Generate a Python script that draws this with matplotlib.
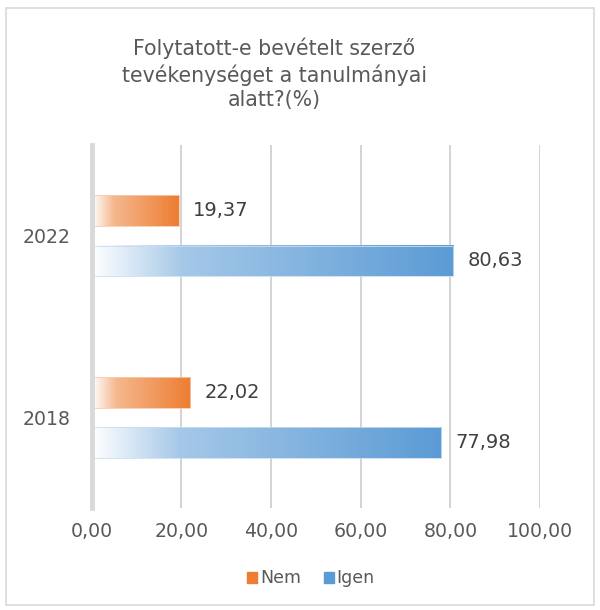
import numpy as np
import matplotlib.pyplot as plt
from matplotlib.colors import LinearSegmentedColormap, to_rgb
from matplotlib.patches import Rectangle

plt.rcParams['font.family'] = ['DejaVu Sans']

years = ['2018', '2022']
nem = [22.02, 19.37]
igen = [77.98, 80.63]
xticks = [0, 20, 40, 60, 80, 100]
title = "Folytatott-e bevételt szerző\ntevékenységet a tanulmányai\nalatt?(%)"

c_nem = '#ED7D31'
c_igen = '#5B9BD5'
txt = '#595959'


def grad_cmap(c):
    r = np.array(to_rgb(c))
    w = np.ones(3)
    return LinearSegmentedColormap.from_list(
        'g', [(0, w), (0.25, w * 0.45 + r * 0.55), (1, r)])


fig = plt.figure(figsize=(6, 6.1), dpi=100)
fig.patches.append(Rectangle((0.01, 0.008), 0.98, 0.979, transform=fig.transFigure,
                             fill=False, edgecolor='#D9D9D9', lw=1.2))
ax = fig.add_axes([0.153, 0.167, 0.747, 0.595])

y = np.arange(len(years))
h = 0.17
off = 0.138
b_nem = ax.barh(y + off, nem, height=h, color='none')
b_igen = ax.barh(y - off, igen, height=h, color='none')

grad = np.linspace(0, 1, 256).reshape(1, -1)
for bars, col, edge in [(b_nem, c_nem, '#F8CBAD'), (b_igen, c_igen, '#C9DDF0')]:
    cm = grad_cmap(col)
    for p in bars:
        x0, y0, w, hh = p.get_x(), p.get_y(), p.get_width(), p.get_height()
        ax.imshow(grad, cmap=cm, aspect='auto', extent=[x0, x0 + w, y0, y0 + hh],
                  zorder=3, interpolation='bilinear')
        ax.add_patch(Rectangle((x0, y0), w, hh, fill=False, edgecolor=edge, lw=0.6, zorder=4))

for bars, vals in [(b_nem, nem), (b_igen, igen)]:
    for p, v in zip(bars, vals):
        ax.text(v + 3.2, p.get_y() + p.get_height() / 2, f"{v:.2f}".replace('.', ','),
                va='center', ha='left', fontsize=14, color='#404040')

ax.set_xlim(0, 100)
ax.set_ylim(-0.5, 1.5)
ax.set_xticks(xticks)
ax.set_xticklabels([f"{t:.2f}".replace('.', ',') for t in xticks])
ax.set_yticks(y)
ax.set_yticklabels(years)
ax.tick_params(length=0, labelsize=13.6, colors=txt)
ax.tick_params(axis='x', pad=10)
ax.tick_params(axis='y', pad=15)
ax.grid(axis='x', color='#D0D0D0', lw=1.3, zorder=0)
ax.set_axisbelow(True)
for s in ['top', 'right', 'bottom']:
    ax.spines[s].set_visible(False)
ax.spines['left'].set_color('#D9D9D9')
ax.spines['left'].set_linewidth(3.5)
ax.spines['left'].set_zorder(5)

fig.text(0.457, 0.879, title, ha='center', va='center', fontsize=14.8, color=txt,
         linespacing=1.3)

handles = [Rectangle((0, 0), 1, 1, color=c_nem), Rectangle((0, 0), 1, 1, color=c_igen)]
fig.legend(handles, ['Nem', 'Igen'], loc='center', bbox_to_anchor=(0.518, 0.052), ncol=2,
           frameon=False, fontsize=12.5, labelcolor=txt, handlelength=0.6, handleheight=0.6,
           handletextpad=0.15, columnspacing=1.3)

fig.savefig('out.png', dpi=100)
